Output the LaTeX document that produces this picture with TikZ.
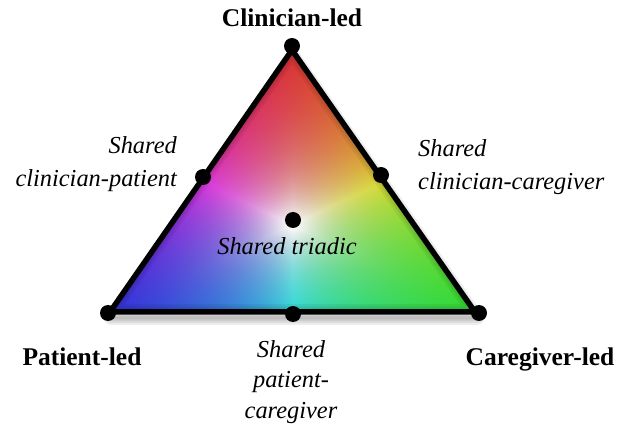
\documentclass[tikz,border=0pt]{standalone}
\usepackage{fontspec}
\setmainfont{Liberation Serif}
\pgfdeclarefunctionalshading{triadic}{\pgfpointorigin}{\pgfpoint{100bp}{100bp}}{}{
  25 sub 50 div
  exch 25 sub
  1 index 25 mul sub 50 div
  2 copy add 1 exch sub
  dup 0 lt {pop 0} if 3 1 roll
  dup 0 lt {pop 0} if 3 1 roll
  dup 0 lt {pop 0} if 3 1 roll
  3 copy 2 copy gt {exch} if pop 2 copy gt {exch} if pop
  4 copy pop 2 copy lt {exch} if pop 2 copy lt {exch} if pop
  exch 1 index div dup dup mul mul
  dup 0.8 mul 0.2 add exch 1 exch sub 0.65 mul
  5 index 3 index div 1 index mul 2 index add
  5 index 4 index div 2 index mul 3 index add
  5 index 5 index div 3 index mul 4 index add
  9 3 roll pop pop pop pop pop pop
}
\tikzset{
  dot/.style={circle, fill=black, inner sep=0pt, minimum size=16pt},
  lead/.style={font=\fontsize{25.5}{30}\selectfont\bfseries, inner sep=0pt},
  shared/.style={font=\fontsize{24.4}{30}\selectfont\itshape, inner sep=0pt},
  edge/.style={line width=5.5pt, line join=round, black},
}
\begin{document}
\begin{tikzpicture}[x=1pt, y=-1pt]
\useasboundingbox (0,0) rectangle (627,430);
\coordinate (T) at (292,50);
\coordinate (L) at (110,312);
\coordinate (R) at (475,312);
% soft shadow
\coordinate (Ts) at (293,56);
\coordinate (Ls) at (111,318);
\coordinate (Rs) at (477,318);
\foreach \w in {14,10,6,3}
  \draw[black, opacity=0.07, line width=\w pt, line join=round] (Ts) -- (Ls) -- (Rs) -- cycle;
% coloured triangle
\shade[shading=triadic] (T) -- (L) -- (R) -- cycle;
\begin{scope}
  \clip (T) -- (L) -- (R) -- cycle;
  \foreach \w in {16,11,7}
    \draw[black, opacity=0.06, line width=\w pt, line join=round] (T) -- (L) -- (R) -- cycle;
\end{scope}
\draw[edge] (T) -- (L) -- (R) -- cycle;
% dots
\node[dot] (dtop) at (292,46) {};
\node[dot] (dleft) at (108,313) {};
\node[dot] (dright) at (479,313) {};
\node[dot] (dcp) at (203,177) {};
\node[dot] (dcc) at (381,175) {};
\node[dot] (dpc) at (293,314) {};
\node[dot] (dtri) at (293,220) {};
% labels
\node[lead, anchor=base] (clin) at (292,27) {Clinician-led};
\node[lead, anchor=base] (pat) at (82,366) {Patient-led};
\node[lead, anchor=base] (care) at (540,366) {Caregiver-led};
\node[shared, anchor=base east] (cp1) at (177,154) {Shared};
\node[shared, anchor=base east] (cp2) at (177,187) {clinician-patient};
\node[shared, anchor=base west] (cc1) at (418,157) {Shared};
\node[shared, anchor=base west] (cc2) at (418,190) {clinician-caregiver};
\node[shared, anchor=base] (tri) at (287,255) {Shared triadic};
\node[shared, anchor=base] (pc1) at (291,358) {Shared};
\node[shared, anchor=base] (pc2) at (291,388) {patient-};
\node[shared, anchor=base] (pc3) at (291,419) {caregiver};
\end{tikzpicture}
\end{document}
